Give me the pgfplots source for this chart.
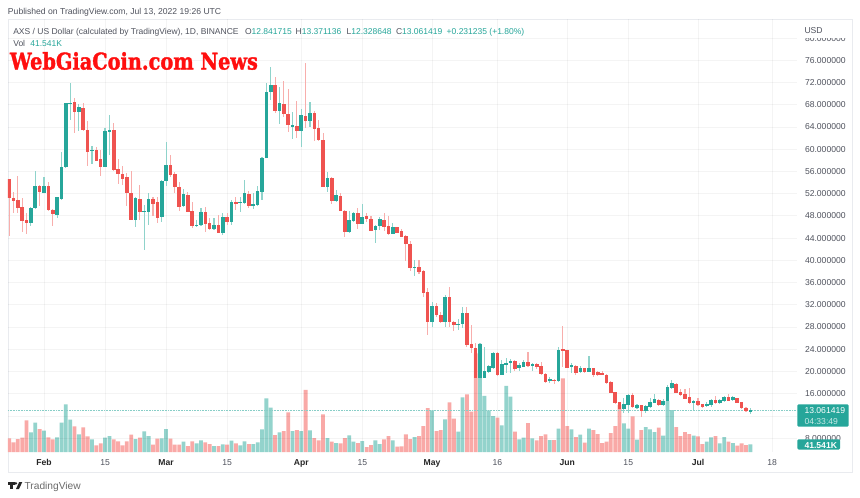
\documentclass[border=0pt]{standalone}
\usepackage{fontspec}
\usepackage{pgfplots}
\usepackage{pgfplotstable}
\pgfplotsset{compat=1.18}
\setmainfont{Liberation Sans}
\newfontfamily\wmfont[BoldFeatures={FakeBold=1.6}]{DejaVu Serif}
\definecolor{upc}{HTML}{26A69A}
\definecolor{dnc}{HTML}{EF5350}
\definecolor{upw}{HTML}{8FD3CB}
\definecolor{dnw}{HTML}{F8AEAC}
\definecolor{upv}{HTML}{93D3CC}
\definecolor{dnv}{HTML}{F9A9A7}
\definecolor{txt}{HTML}{50535E}
\definecolor{frm}{HTML}{E9EBEF}

% d = days since Feb 1, prices in USD, v in thousands
\pgfplotstableread{
d o h l c v
-8 54.69 54.69 44.43 51.21 73.8
-7 51.15 52.35 48.45 50.79 52.2
-6 50.85 55.17 48.45 49.41 70.2
-5 49.59 51.15 45.03 47.19 77.4
-4 47.19 48.45 44.67 46.77 171
-3 46.77 49.65 46.17 49.41 106.2
-2 49.47 56.01 49.29 53.43 158.4
-1 53.37 53.49 49.83 52.35 124.2
0 52.23 54.93 52.05 53.43 115.2
1 53.43 54.15 48.93 49.05 79.2
2 49.05 49.17 46.17 48.33 68.4
3 48.27 51.45 47.55 51.39 79.2
4 51.15 59.43 50.85 56.85 158.4
5 56.85 68.25 56.67 68.25 257.4
6 68.25 71.97 65.25 68.37 174.6
7 68.43 69.21 62.85 66.69 138.6
8 66.81 68.13 63.33 67.59 95.4
9 67.47 68.25 63.33 63.45 133.2
10 63.45 65.13 57.03 59.49 84.6
11 59.73 60.63 57.33 59.85 68.4
12 59.85 60.45 57.81 57.93 36
13 58.17 59.85 55.17 56.85 46.8
14 56.85 63.75 56.85 63.33 77.4
15 63.15 66.21 58.95 63.45 86.4
16 63.45 64.65 56.13 56.25 68.4
17 56.37 58.17 53.73 55.53 57.6
18 55.53 57.03 53.49 54.69 36
19 54.93 55.65 49.83 52.17 57.6
20 52.17 56.01 47.25 47.37 93.6
21 47.37 51.45 46.05 51.15 70.2
22 50.97 53.55 47.25 48.69 77.4
23 48.75 49.95 41.85 48.87 111.6
24 48.69 52.05 46.35 51.09 86.4
25 51.09 51.45 47.97 50.25 39.6
26 50.43 51.45 46.77 47.73 72
27 47.79 54.45 46.95 54.33 73.8
28 54.33 61.35 53.37 57.15 124.2
29 57.15 59.01 55.05 55.47 72
30 55.47 55.95 52.05 53.25 39.6
31 53.25 54.15 48.93 49.65 39.6
32 49.77 52.77 49.53 51.87 55.8
33 51.81 52.35 48.69 48.69 32.4
34 48.87 50.55 45.75 46.17 57.6
35 46.17 47.25 46.05 46.41 46.8
36 46.35 49.35 46.17 48.63 63
37 48.75 49.65 45.15 46.65 52.2
38 46.65 47.55 45.45 45.75 43.2
39 45.75 47.55 45.45 46.35 32.4
40 46.41 48.15 44.97 45.03 32.4
41 45.03 48.45 44.55 47.85 41.4
42 47.73 48.45 46.35 46.89 39.6
43 46.89 50.85 46.35 50.43 61.2
44 50.49 51.45 49.05 50.25 46.8
45 50.31 51.45 48.75 50.55 36
46 50.43 54.45 50.13 52.05 57.6
47 51.93 52.53 49.35 49.77 43.2
48 49.77 52.05 49.17 50.13 43.2
49 50.01 53.37 49.77 52.41 52.2
50 52.41 58.65 50.85 58.41 122.4
51 58.41 71.85 58.35 70.29 289.8
52 70.29 74.73 68.85 71.55 239.4
53 71.55 73.05 66.45 66.93 91.8
54 66.87 71.25 64.47 68.37 106.2
55 68.13 72.33 65.73 66.33 113.4
56 66.33 70.83 63.15 64.35 214.2
57 64.17 66.75 61.83 64.29 113.4
58 64.23 68.73 61.95 63.27 118.8
59 63.33 67.23 60.45 66.21 113.4
60 65.97 75.57 63.75 65.19 334.8
61 65.19 68.49 64.05 66.51 117
62 66.51 66.93 61.47 63.75 75.6
63 63.75 65.25 61.41 61.65 63
64 61.59 62.85 53.25 53.25 203.4
65 53.25 55.83 52.23 54.81 75.6
66 54.81 55.05 50.19 50.67 55.8
67 50.67 52.65 50.55 51.75 48.6
68 51.63 52.05 48.87 48.93 46.8
69 48.93 49.05 44.13 45.09 75.6
70 45.15 48.87 44.97 47.25 90
71 47.19 48.75 46.95 48.45 55.8
72 48.45 49.47 45.69 46.65 48.6
73 46.65 50.13 46.65 47.85 59.4
74 47.91 48.45 46.95 47.43 27
75 47.43 48.03 45.21 45.39 37.8
76 45.45 46.35 43.17 46.23 63
77 46.23 47.85 45.45 47.37 43.2
78 47.25 48.45 45.33 46.05 68.4
79 46.11 47.97 44.55 44.73 86.4
80 44.79 46.77 44.73 45.93 63
81 45.93 46.05 44.85 45.03 28.8
82 45.33 45.57 44.25 44.25 30.6
83 44.37 44.55 39.93 42.93 95.4
84 42.93 43.41 38.01 38.73 70.2
85 38.67 40.05 37.17 38.79 81
86 38.73 40.05 37.47 37.95 86.4
87 38.01 38.25 33.45 34.23 140.4
88 34.35 34.95 26.55 28.95 237.6
89 28.95 32.49 27.93 31.77 225
90 31.77 32.25 29.85 30.15 113.4
91 30.15 30.75 28.77 28.95 118.8
92 28.95 33.75 28.05 33.33 176.4
93 33.33 35.13 28.05 28.95 268.2
94 28.95 29.13 27.33 28.35 180
95 28.41 29.37 27.45 28.53 109.8
96 28.55 31.65 27.75 30.47 295.2
97 30.47 31.67 24.47 24.71 311.4
98 24.89 28.37 23.39 24.17 217.8
99 24.17 25.19 16.37 18.77 532.8
100 18.89 25.07 17.27 24.95 583.2
101 18.89 24.47 18.77 20.09 302.4
102 19.97 21.17 19.79 20.93 225
103 20.69 23.45 20.51 23.27 194.4
104 23.27 23.45 19.25 19.37 185.4
105 19.43 22.07 19.31 21.35 144
106 21.29 22.37 19.67 21.47 356.4
107 21.53 22.19 19.67 21.89 298.8
108 21.89 22.07 20.15 20.51 109.8
109 20.57 21.47 20.15 21.05 68.4
110 20.87 22.07 20.75 21.65 77.4
111 21.65 23.57 20.87 20.99 156.6
112 21.17 21.47 20.15 21.29 73.8
113 21.23 21.47 20.39 20.87 63
114 20.93 21.77 19.37 19.49 86.4
115 19.55 19.67 17.99 18.17 95.4
116 18.35 18.95 17.99 18.59 64.8
117 18.47 18.65 17.69 18.35 64.8
118 18.35 24.35 18.17 23.87 126
119 23.99 28.19 20.87 23.81 397.8
120 23.87 23.87 20.57 20.69 140.4
121 20.87 21.47 19.67 21.11 122.4
122 20.99 21.17 19.37 19.79 81
123 19.91 21.05 19.79 20.57 93.6
124 20.51 20.63 19.79 19.91 50.4
125 19.97 22.79 19.91 20.63 126
126 20.63 20.69 19.07 19.43 118.8
127 19.79 20.09 19.19 19.31 97.2
128 19.67 20.09 19.31 19.43 48.6
129 19.37 19.55 17.75 17.87 55.8
130 18.05 18.29 16.07 16.19 102.6
131 16.25 16.37 14.15 14.39 140.4
132 14.51 14.57 10.67 13.19 253.8
133 13.25 15.17 12.47 14.09 154.8
134 13.97 15.95 12.47 15.77 126
135 15.77 16.19 13.43 13.55 192.6
136 13.49 14.15 13.31 13.85 66.6
137 13.91 14.03 11.75 12.89 118.8
138 12.89 13.91 12.59 13.79 135
139 13.67 15.17 13.49 14.51 122.4
140 14.39 15.95 14.27 14.93 108
141 14.87 15.05 13.79 13.91 131.4
142 13.91 15.05 13.79 14.69 88.2
143 14.69 17.51 14.57 17.15 275.4
144 17.03 18.47 16.91 17.87 226.8
145 17.75 17.87 16.07 16.19 135
146 16.19 16.79 15.59 15.77 86.4
147 15.95 16.79 14.99 15.11 108
148 15.35 16.97 14.15 14.27 97.2
149 14.39 14.87 13.07 14.57 88.2
150 14.57 15.17 13.85 13.97 84.6
151 14.09 14.15 13.49 13.67 43.2
152 13.79 14.45 13.55 14.15 55.8
153 13.97 14.99 13.67 14.81 79.2
154 14.81 15.59 14.15 14.27 86.4
155 14.27 14.99 14.15 14.81 46.8
156 14.69 15.65 14.57 15.35 81
157 15.35 15.95 14.63 14.75 55.8
158 14.87 15.59 14.69 15.29 48.6
159 15.11 15.17 14.27 14.39 34.2
160 14.45 14.57 13.25 13.37 46.8
161 13.43 13.55 12.71 12.83 37.8
162 12.84 13.37 12.33 13.06 41.541
}\ohlc

\pgfplotsset{
  pane/.style={
    scale only axis, width=789pt, height=433pt,
    at={(8pt,-452pt)}, anchor=south west,
    xmin=-8.257, xmax=172.7,
  },
  wick/.style={draw=none, mark=none, forget plot,
    error bars/y dir=both, error bars/y explicit,
    error bars/error mark=none,
    error bars/error bar style={solid, line width=1.1pt, draw=#1}},
  body/.style={draw=none, mark=none, forget plot,
    error bars/y dir=both, error bars/y explicit,
    error bars/error mark=none,
    error bars/error bar style={solid, line width=3.6pt, draw=#1}},
}

\begin{document}
\begin{tikzpicture}[every node/.style={inner sep=0pt, outer sep=0pt}]
\path[use as bounding box, fill=white] (0,0) rectangle (860pt,-498pt);
\draw[frm, line width=0.8pt] (8pt,-19pt) rectangle (852pt,-472pt);

% volume pane
\begin{axis}[pane, ymin=0, ymax=2338, hide axis]
  \addplot[ybar, bar width=3.8pt, bar shift=0pt, fill=dnv, draw=none, forget plot]
    table[x=d, y expr={\thisrow{c}<\thisrow{o} ? \thisrow{v} : nan}] {\ohlc};
  \addplot[ybar, bar width=3.8pt, bar shift=0pt, fill=upv, draw=none, forget plot]
    table[x=d, y expr={\thisrow{c}<\thisrow{o} ? nan : \thisrow{v}}] {\ohlc};
\end{axis}

% price pane
\begin{axis}[pane, ymin=5.51, ymax=83.43,
  axis line style={draw=none}, tick style={draw=none},
  grid=major, grid style={black, opacity=0.045, line width=0.8pt},
  ytick={8,16,20,...,80}, yticklabel pos=right,
  extra y ticks={12}, extra y tick labels={},
  /pgf/number format/.cd, fixed, fixed zerofill, precision=6, assume math mode=true,
  /pgfplots/.cd,
  yticklabel style={font=\fontsize{8.6}{10}\selectfont, text=txt, anchor=west, xshift=8pt},
  xtick={0,14,28,42,59,73,89,104,120,134,150,167},
  xticklabels={\textbf{\textcolor{black!85}{Feb}},15,\textbf{\textcolor{black!85}{Mar}},15,\textbf{\textcolor{black!85}{Apr}},15,\textbf{\textcolor{black!85}{May}},16,\textbf{\textcolor{black!85}{Jun}},15,\textbf{\textcolor{black!85}{Jul}},18},
  xticklabel style={font=\fontsize{8.6}{10}\selectfont, text=txt, anchor=base, yshift=-13pt},
  clip=true,
]
  \addplot[upc!55, densely dotted, line width=0.6pt, forget plot] coordinates {(-8.257,13.061)(172.7,13.061)};
  \addplot[wick=dnw] table[x=d,
    y expr={\thisrow{c}<\thisrow{o} ? (\thisrow{h}+\thisrow{l})/2 : nan},
    y error expr={(\thisrow{h}-\thisrow{l})/2}] {\ohlc};
  \addplot[wick=upw] table[x=d,
    y expr={\thisrow{c}<\thisrow{o} ? nan : (\thisrow{h}+\thisrow{l})/2},
    y error expr={(\thisrow{h}-\thisrow{l})/2}] {\ohlc};
  \addplot[body=dnc] table[x=d,
    y expr={\thisrow{c}<\thisrow{o} ? (\thisrow{o}+\thisrow{c})/2 : nan},
    y error expr={abs(\thisrow{o}-\thisrow{c})/2+0.03}] {\ohlc};
  \addplot[body=upc] table[x=d,
    y expr={\thisrow{c}<\thisrow{o} ? nan : (\thisrow{o}+\thisrow{c})/2},
    y error expr={abs(\thisrow{o}-\thisrow{c})/2+0.03}] {\ohlc};
\end{axis}

% mask over the clipped top label, header texts
\fill[white] (799pt,-20pt) rectangle (851pt,-37.5pt);
\node[anchor=base west, text=txt, font=\fontsize{8.6}{10}\selectfont] at (804.5pt,-33pt) {USD};
\node[anchor=base west, text=txt, font=\fontsize{8.6}{10}\selectfont] at (8pt,-14.5pt)
  {Published on TradingView.com, Jul 13, 2022 19:26 UTC};
\begin{scope}[every node/.append style={anchor=base west, font=\fontsize{8.5}{10}\selectfont}]
\node[text=txt] at (13.3pt,-34.5pt) {AXS / US Dollar (calculated by TradingView), 1D, BINANCE};
\node[text=txt] at (245pt,-34.5pt) {O\textcolor{upc}{12.841715}};
\node[text=txt] at (295.7pt,-34.5pt) {H\textcolor{upc}{13.371136}};
\node[text=txt] at (346.7pt,-34.5pt) {L\textcolor{upc}{12.328648}};
\node[text=txt] at (396pt,-34.5pt) {C\textcolor{upc}{13.061419}};
\node[text=upc] at (446.7pt,-34.5pt) {+0.231235 (+1.80\%)};
\node[text=txt] at (13.3pt,-46.5pt) {Vol};
\node[text=upc] at (30.3pt,-46.5pt) {41.541K};
\end{scope}

% watermark
\node[anchor=base west, text={rgb,255:red,255;green,15;blue,15}, font=\wmfont\bfseries\fontsize{23}{26}\selectfont, xscale=0.84] at (10pt,-69.5pt) {WebGiaCoin.com News};

% price and volume badges
\fill[upc, rounded corners=1.2pt] (797.3pt,-404.3pt) rectangle (848.5pt,-426.7pt);
\node[anchor=base west, text=white, font=\fontsize{8.6}{10}\selectfont] at (804.5pt,-413.5pt) {13.061419};
\node[anchor=base west, text=white!75!upc, font=\fontsize{8.6}{10}\selectfont] at (804.5pt,-424pt) {04:33:49};
\fill[upc, rounded corners=1.2pt] (797.3pt,-439.3pt) rectangle (840pt,-449.5pt);
\node[anchor=base west, text=white, font=\bfseries\fontsize{8.6}{10}\selectfont] at (804.5pt,-448pt) {41.541K};

% footer logo and name
\fill[black!85] (7.5pt,-482pt) rectangle (15pt,-484.6pt);
\fill[black!85] (10.4pt,-484pt) rectangle (13.2pt,-489pt);
\fill[black!85] (16pt,-489pt) -- (19.2pt,-482pt) -- (22.3pt,-482pt) -- (19pt,-489pt) -- cycle;
\fill[black!85] (15.9pt,-483.4pt) circle (1.35pt);
\node[anchor=base west, text=black!58, font=\fontsize{10.2}{12}\selectfont] at (24.6pt,-489.5pt) {TradingView};
\end{tikzpicture}
\end{document}
